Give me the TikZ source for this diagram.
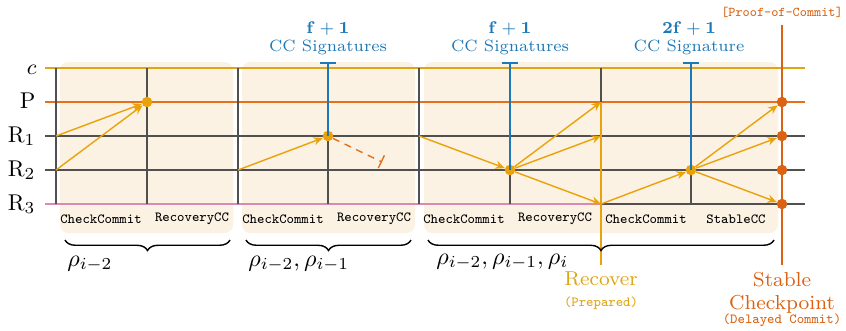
\documentclass[tikz,border=0pt]{standalone}
\usepackage{amsmath}
\usepackage{tikz}
\usetikzlibrary{arrows.meta, decorations.pathreplacing, positioning}
\definecolor{ccgold}{RGB}{222,165,20}
\definecolor{ccorange}{RGB}{228,112,28}
\definecolor{ccgrey}{RGB}{80,80,80}
\definecolor{ccpink}{RGB}{214,138,180}
\definecolor{ccarrow}{RGB}{234,162,10}
\definecolor{ccblue}{RGB}{28,120,182}
\definecolor{ccstable}{RGB}{218,98,18}
\definecolor{ccbox}{RGB}{251,242,227}
\newcommand{\smalltt}{\fontsize{5.8}{7}\selectfont\ttfamily}

\begin{document}
\begin{tikzpicture}[
    x=0.03cm, y=-0.03cm,
    txt/.style={scale=2.05},
    rowlab/.style={txt, font=\fontsize{9.5}{11}\selectfont, anchor=base east, inner sep=0pt},
    steplab/.style={txt, font=\smalltt},
    sigtext/.style={txt, font=\fontsize{6.8}{7.4}\selectfont, text=ccblue, align=center},
    rholab/.style={txt, font=\fontsize{9.6}{11}\selectfont, anchor=west, inner sep=0pt},
    gridline/.style={ccgrey, line width=1.2pt},
    msg/.style={ccarrow, line width=1.2pt, -{Stealth[length=8pt, width=7pt]}},
    sigline/.style={ccblue, line width=2pt, {Bar[width=14pt]}-},
    dropline/.style={ccorange, line width=1.2pt, dash pattern=on 6pt off 5pt, -{Bar[width=12pt]}},
    dot/.style={circle, fill=ccarrow, inner sep=0pt, minimum size=9pt},
    sdot/.style={circle, fill=ccstable, inner sep=0pt, minimum size=9pt},
    brace/.style={decorate, decoration={brace, mirror, amplitude=9pt}, line width=1.2pt}
]
\useasboundingbox (0,0) rectangle (846,330);

% grid points: rows c, P, R1..R3 and columns 0..8
\foreach \col/\x in {0/56,1/147,2/238,3/328,4/419,5/510,6/601,7/691,8/782}
  \foreach \row/\y in {c/68,P/102,R1/136,R2/170,R3/204}
    \coordinate (\row-\col) at (\x,\y);

% phase backgrounds
\foreach \xa/\xb in {60/233, 242/415, 424/778}
  \fill[ccbox, rounded corners=7pt] (\xa,62) rectangle (\xb,233);

% process lines
\foreach \y/\clr in {68/ccgold, 102/ccorange, 136/ccgrey, 170/ccgrey}
  \draw[\clr, line width=1.2pt] (45,\y) -- (805,\y);
\draw[ccpink, line width=1.2pt] (45,204) -- (R3-6);
\draw[ccgrey, line width=1.2pt] (R3-6) -- (805,204);

\foreach \col in {0,...,7}
  \draw[gridline] (c-\col) -- (R3-\col);

\node[rowlab] (lab-c) at (37,74) {$c$};
\node[rowlab] (lab-P) at (36,108) {P};
\node[rowlab] (lab-R1) at (36,142) {R$_1$};
\node[rowlab] (lab-R2) at (36,176) {R$_2$};
\node[rowlab] (lab-R3) at (36,210) {R$_3$};

% recover and stable checkpoint
\node[txt, font=\fontsize{8.4}{9.8}\selectfont, text=ccgold, anchor=north, align=center, inner sep=2pt] (recover) at (601,266)
  {Recover\\[-1pt]{\smalltt (Prepared)}};
\node[txt, font=\fontsize{8.4}{9.6}\selectfont, text=ccstable, anchor=north, align=center, inner sep=2pt] (stable) at (782,267)
  {Stable\\Checkpoint\\[-4pt]{\smalltt (Delayed Commit)}};
\node[txt, font=\fontsize{5.6}{7}\selectfont\ttfamily, text=ccstable] (poc) at (782,12) {[Proof-of-Commit]};
\coordinate (stable-top) at (782,25);
\coordinate (stable-bot) at (782,265);
\coordinate (recover-bot) at (601,265);
\draw[ccarrow, line width=2pt] (P-6) -- (recover-bot);
\draw[ccstable, line width=2pt] (stable-top) -- (stable-bot);

% signatures
\node[dot] (dot1) at (P-1) {};
\node[dot] (dot3) at (R1-3) {};
\node[dot] (dot5) at (R2-5) {};
\node[dot] (dot7) at (R2-7) {};
\foreach \row in {P,R1,R2,R3}
  \node[sdot] (s-\row) at (\row-8) {};

\node[sigtext] (sig3) at (328,38) {$\mathbf{f+1}$\\CC Signatures};
\node[sigtext] (sig5) at (510,38) {$\mathbf{f+1}$\\CC Signatures};
\node[sigtext] (sig7) at (689,38) {$\mathbf{2f+1}$\\CC Signature};
\foreach \i/\x in {3/328, 5/510, 7/691}
  \coordinate (bar\i) at (\x,62);
\foreach \i in {3,5,7}
  \draw[sigline] (bar\i) -- (dot\i.center);

\coordinate (drop) at (382,162);
\draw[dropline] (dot3) -- (drop);

% messages
\draw[msg] (R1-0) -- (dot1);
\draw[msg] (R2-0) -- (dot1);
\draw[msg] (R2-2) -- (dot3);
\draw[msg] (R1-4) -- (dot5);
\foreach \row in {P,R1,R3}
  \draw[msg] (dot5) -- (\row-6);
\draw[msg] (R3-6) -- (dot7);
\foreach \row in {P,R1,R3}
  \draw[msg] (dot7) -- (s-\row);

% step names
\foreach \x/\name [count=\i] in {101/CheckCommit, 192/RecoveryCC, 283/CheckCommit, 374/RecoveryCC,
    464/CheckCommit, 555/RecoveryCC, 646/CheckCommit, 736/StableCC}
  \node[steplab] (step\i) at (\x,219) {\name};

% views
\draw[brace] (65,240) -- (230,240);
\draw[brace] (246,240) -- (411,240);
\draw[brace] (428,240) -- (774,240);
\node[rholab] (rho1) at (67,264) {$\rho_{i-2}$};
\node[rholab] (rho2) at (248,264) {$\rho_{i-2},\rho_{i-1}$};
\node[rholab] (rho3) at (436,262) {$\rho_{i-2},\rho_{i-1},\rho_i$};

\end{tikzpicture}
\end{document}
